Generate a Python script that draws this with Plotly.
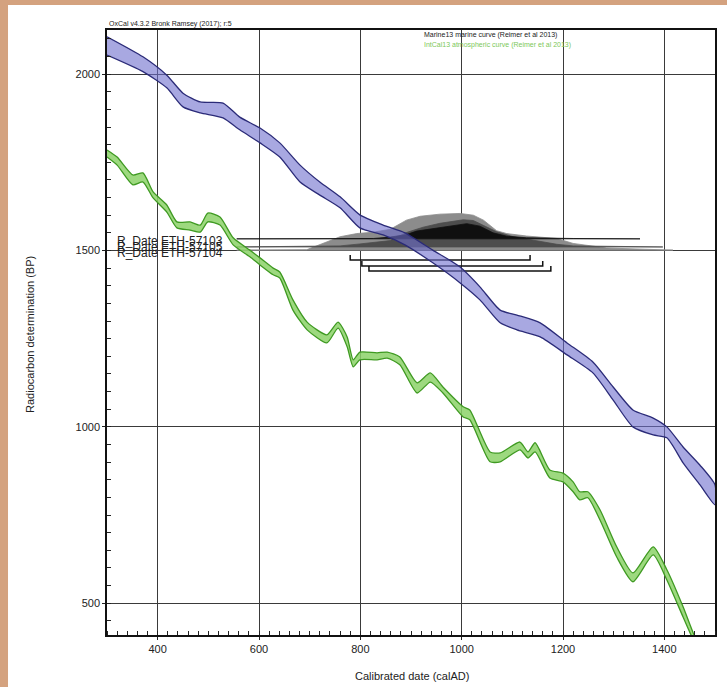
import plotly.graph_objects as go

# ---------------- data ----------------
marine_ad = [300, 371, 418, 450, 484, 529, 562, 602, 641, 681, 720, 760, 799, 845, 888,
             943, 997, 1036, 1076, 1109, 1155, 1208, 1259, 1299, 1338, 1378, 1405, 1437, 1470, 1500]
marine_hi = [2106, 2049, 1997, 1946, 1921, 1918, 1878, 1847, 1805, 1742, 1694, 1652, 1601, 1572, 1550,
             1501, 1453, 1397, 1331, 1317, 1295, 1238, 1184, 1113, 1048, 1025, 1000, 943, 892, 836]
marine_lo = [2054, 2007, 1961, 1907, 1890, 1876, 1842, 1805, 1765, 1694, 1657, 1621, 1564, 1544, 1516,
             1465, 1408, 1360, 1295, 1275, 1255, 1204, 1153, 1076, 1000, 977, 969, 898, 836, 779]

intcal_ad = [300, 320, 351, 371, 391, 418, 438, 464, 484, 499, 523, 549, 582, 602, 628, 641, 667,
             695, 734, 756, 774, 786, 799, 833, 853, 878, 912, 938, 963, 1003, 1016, 1056, 1076,
             1115, 1131, 1145, 1174, 1200, 1220, 1233, 1249, 1273, 1306, 1338, 1378, 1405, 1437,
             1457, 1475]
intcal_hi = [1785, 1765, 1714, 1720, 1666, 1629, 1581, 1581, 1572, 1606, 1595, 1536, 1501, 1479, 1450,
             1439, 1360, 1297, 1261, 1297, 1255, 1190, 1212, 1210, 1212, 1198, 1125, 1153, 1113, 1057,
             1048, 929, 926, 957, 929, 955, 878, 869, 844, 816, 816, 765, 660, 586, 660, 595, 490,
             416, 360]
intcal_lo = [1765, 1742, 1686, 1694, 1649, 1609, 1564, 1558, 1552, 1581, 1572, 1516, 1482, 1459, 1431,
             1422, 1331, 1275, 1238, 1280, 1227, 1170, 1190, 1190, 1195, 1176, 1096, 1127, 1096, 1028,
             1020, 901, 901, 935, 912, 929, 855, 844, 816, 793, 799, 736, 631, 561, 637, 566, 461,
             396, 340]

date_labels = ["R_Date ETH-57104", "R_Date ETH-57105", "R_Date ETH-57103"]
date_bp = [1501, 1510, 1533]          # baselines of the distributions (BP)
label_bp = [1493, 1510, 1527]

dist_ad = [
    [556, 694, 760, 793, 826, 859, 891, 918, 957, 997, 1023, 1043, 1069, 1089, 1128, 1188, 1220, 1286, 1417],
    [556, 694, 760, 799, 859, 891, 924, 957, 1003, 1023, 1043, 1069, 1102, 1155, 1188, 1220, 1397],
    [556, 826, 859, 891, 911, 957, 997, 1010, 1036, 1062, 1089, 1128, 1220, 1352],
]
dist_prob = [
    [0, 1, 38, 47, 51, 59, 85, 96, 102, 104, 99, 85, 55, 47, 40, 33, 19, 6, 0],
    [0, 1, 3, 8.5, 18, 41, 56, 67, 77, 75, 62, 43, 29, 15, 7.5, 3, 0],
    [0, 1, 5, 12, 22, 31, 41, 43, 36, 17, 7.5, 3, 1, 0],
]
dist_fill = ["#8c8c8c", "#4d4d4d", "#101010"]

range_start = [780, 803, 817]
range_end = [1135, 1160, 1176]
range_bp = [1473, 1456, 1442]
bracket_tick = 14

x_ticks = [400, 600, 800, 1000, 1200, 1400]
y_ticks = [500, 1000, 1500, 2000]

FONT = "Liberation Sans, Arial, sans-serif"

# ---------------- figure ----------------
fig = go.Figure()

for ad, pr, base, col in zip(dist_ad, dist_prob, date_bp, dist_fill):
    xs = ad + ad[::-1]
    ys = [base + p for p in pr] + [base] * len(ad)
    fig.add_trace(go.Scatter(x=xs, y=ys, fill="toself", fillcolor=col, mode="lines",
                             line=dict(color=col, width=0.8), hoverinfo="skip", showlegend=False))

for s, e, b in zip(range_start, range_end, range_bp):
    fig.add_trace(go.Scatter(x=[s, s, e, e], y=[b + bracket_tick, b, b, b + bracket_tick],
                             mode="lines", line=dict(color="#111111", width=1.5),
                             hoverinfo="skip", showlegend=False))

fig.add_trace(go.Scatter(x=marine_ad + marine_ad[::-1], y=marine_hi + marine_lo[::-1],
                         fill="toself", fillcolor="rgba(110,110,205,0.6)", mode="lines",
                         line=dict(color="#2b2b78", width=1.3, shape="spline", smoothing=0.6),
                         hoverinfo="skip", showlegend=False))
fig.add_trace(go.Scatter(x=intcal_ad + intcal_ad[::-1], y=intcal_hi + intcal_lo[::-1],
                         fill="toself", fillcolor="rgba(140,210,105,0.85)", mode="lines",
                         line=dict(color="#3f9a22", width=1.3, shape="spline", smoothing=0.6),
                         hoverinfo="skip", showlegend=False))

annotations = []
for lab, y in zip(date_labels, label_bp):
    annotations.append(dict(x=316, y=y, xref="x", yref="y", text=lab, showarrow=False,
                            xanchor="left", yanchor="middle",
                            font=dict(family=FONT, size=12, color="#222222")))
annotations += [
    dict(x=0, y=1.0099, xref="paper", yref="paper", text="OxCal v4.3.2 Bronk Ramsey (2017); r:5",
         showarrow=False, xanchor="left", yanchor="middle",
         font=dict(family=FONT, size=7, color="#222222")),
    dict(x=0.518, y=0.9917, xref="paper", yref="paper", text="Marine13 marine curve (Reimer et al 2013)",
         showarrow=False, xanchor="left", yanchor="middle",
         font=dict(family=FONT, size=7, color="#222222")),
    dict(x=0.518, y=0.975, xref="paper", yref="paper", text="IntCal13 atmospheric curve (Reimer et al 2013)",
         showarrow=False, xanchor="left", yanchor="middle",
         font=dict(family=FONT, size=7, color="#7cc85a")),
    dict(x=0.5016, y=-0.0678, xref="paper", yref="paper", text="Calibrated date (calAD)",
         showarrow=False, xanchor="center", yanchor="middle",
         font=dict(family=FONT, size=11, color="#222222")),
    dict(x=-0.1266, y=0.496, xref="paper", yref="paper", text="Radiocarbon determination (BP)",
         showarrow=False, xanchor="center", yanchor="middle", textangle=-90,
         font=dict(family=FONT, size=11, color="#222222")),
]

shapes = [dict(type="rect", xref="paper", yref="paper", x0=-0.1628, x1=1.1, y0=-0.2, y1=1.0413,
               fillcolor="white", line=dict(width=0), layer="below")]

fig.update_layout(
    width=727, height=687,
    margin=dict(l=107, r=12, t=30, b=52),
    paper_bgcolor="#d4a27f",
    plot_bgcolor="white",
    showlegend=False,
    annotations=annotations,
    shapes=shapes,
    font=dict(family=FONT, color="#222222"),
)
axis_common = dict(ticks="outside", ticklen=3, tickcolor="#222", showgrid=True,
                   gridcolor="#3a3a3a", gridwidth=1, showline=True, linecolor="#111",
                   linewidth=1.5, mirror=True, zeroline=False, automargin=False,
                   tickfont=dict(family=FONT, size=11, color="#222"))
fig.update_xaxes(range=[300, 1500], tickvals=x_ticks,
                 minor=dict(dtick=20, tick0=0, ticks="inside", ticklen=4, tickcolor="#222", showgrid=False),
                 **axis_common)
fig.update_yaxes(range=[410, 2125], tickvals=y_ticks,
                 minor=dict(dtick=50, tick0=0, ticks="inside", ticklen=4, tickcolor="#222", showgrid=False),
                 **axis_common)

fig.write_html("out.html", config={"displayModeBar": False},
               post_script="document.body.style.margin='0';")
